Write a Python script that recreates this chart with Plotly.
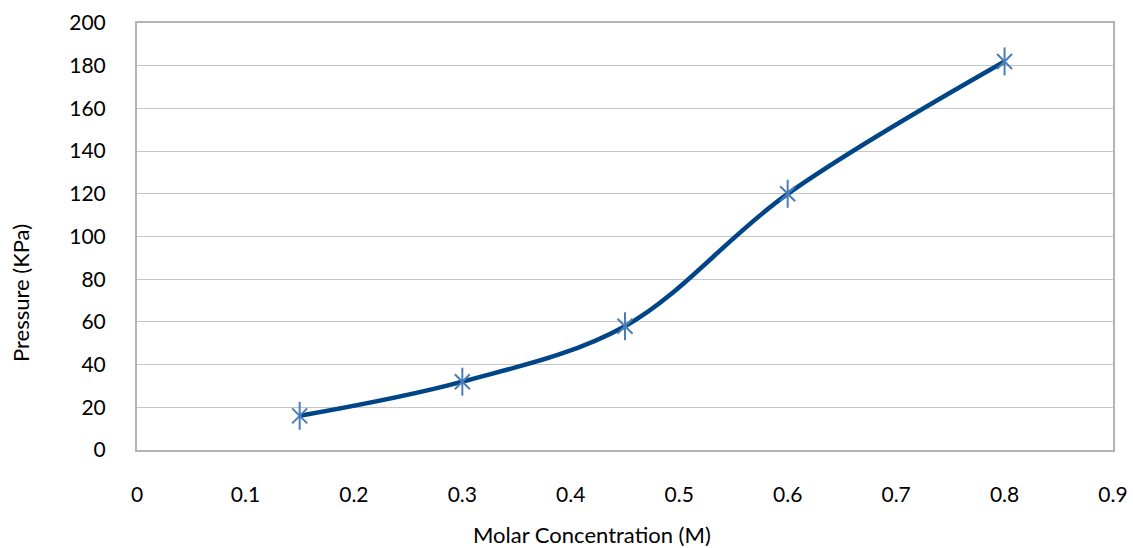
import plotly.graph_objects as go

concentration = [0.15, 0.3, 0.45, 0.6, 0.8]
pressure = [16, 32, 58, 120, 182]
x_ticks = [0, 0.1, 0.2, 0.3, 0.4, 0.5, 0.6, 0.7, 0.8, 0.9]
x_tick_labels = ["0", "0.1", "0.2", "0.3", "0.4", "0.5", "0.6", "0.7", "0.8", "0.9"]
y_ticks = list(range(0, 201, 20))
x_title = "Molar Concentration (M)"
y_title = "Pressure (KPa)"

FONT = "Lato"
MARK = "#4a7ebb"
W, H = 1133, 548
fig = go.Figure()
fig.add_trace(go.Scatter(
    x=concentration, y=pressure, mode="lines",
    line=dict(color="#004586", width=4.5, shape="spline", smoothing=1.0),
    showlegend=False, hoverinfo="skip"))
fig.add_trace(go.Scatter(
    x=concentration, y=pressure, mode="markers",
    marker=dict(symbol="x-thin-open", size=15, color=MARK, line=dict(color=MARK, width=2)),
    showlegend=False))
fig.add_trace(go.Scatter(
    x=concentration, y=pressure, mode="markers",
    marker=dict(symbol="line-ns-open", size=20, color=MARK, line=dict(color=MARK, width=2)),
    showlegend=False, hoverinfo="skip"))

fig.update_layout(
    width=W, height=H,
    margin=dict(l=137, r=20, t=23, b=98),
    paper_bgcolor="white", plot_bgcolor="white",
    font=dict(family=FONT, size=21, color="black"),
    xaxis=dict(
        range=[0, 0.9], tickvals=x_ticks, ticktext=x_tick_labels,
        showgrid=False, zeroline=False, showline=True, mirror=True, automargin=False,
        linecolor="#b3b3b3", linewidth=2, ticks="", ticklabelstandoff=25,
        tickfont=dict(size=21)),
    yaxis=dict(
        range=[0, 200], tickvals=y_ticks, automargin=False,
        showgrid=True, gridcolor="#c6c6c6", gridwidth=1, zeroline=False,
        showline=True, mirror=True, linecolor="#b3b3b3", linewidth=2,
        ticks="", ticklabelstandoff=25, tickfont=dict(size=21)),
    annotations=[
        dict(text=x_title, xref="paper", yref="paper",
             x=(592 - 137) / (W - 137 - 20), y=-(534 - 450) / (450 - 23),
             xanchor="center", yanchor="middle", showarrow=False,
             font=dict(size=22, family=FONT)),
        dict(text=y_title, xref="paper", yref="paper",
             x=-(137 - 20) / (W - 137 - 20), y=(450 - 293) / (450 - 23),
             xanchor="center", yanchor="middle", showarrow=False, textangle=-90,
             font=dict(size=22, family=FONT)),
    ],
)
fig.write_html("out.html")
